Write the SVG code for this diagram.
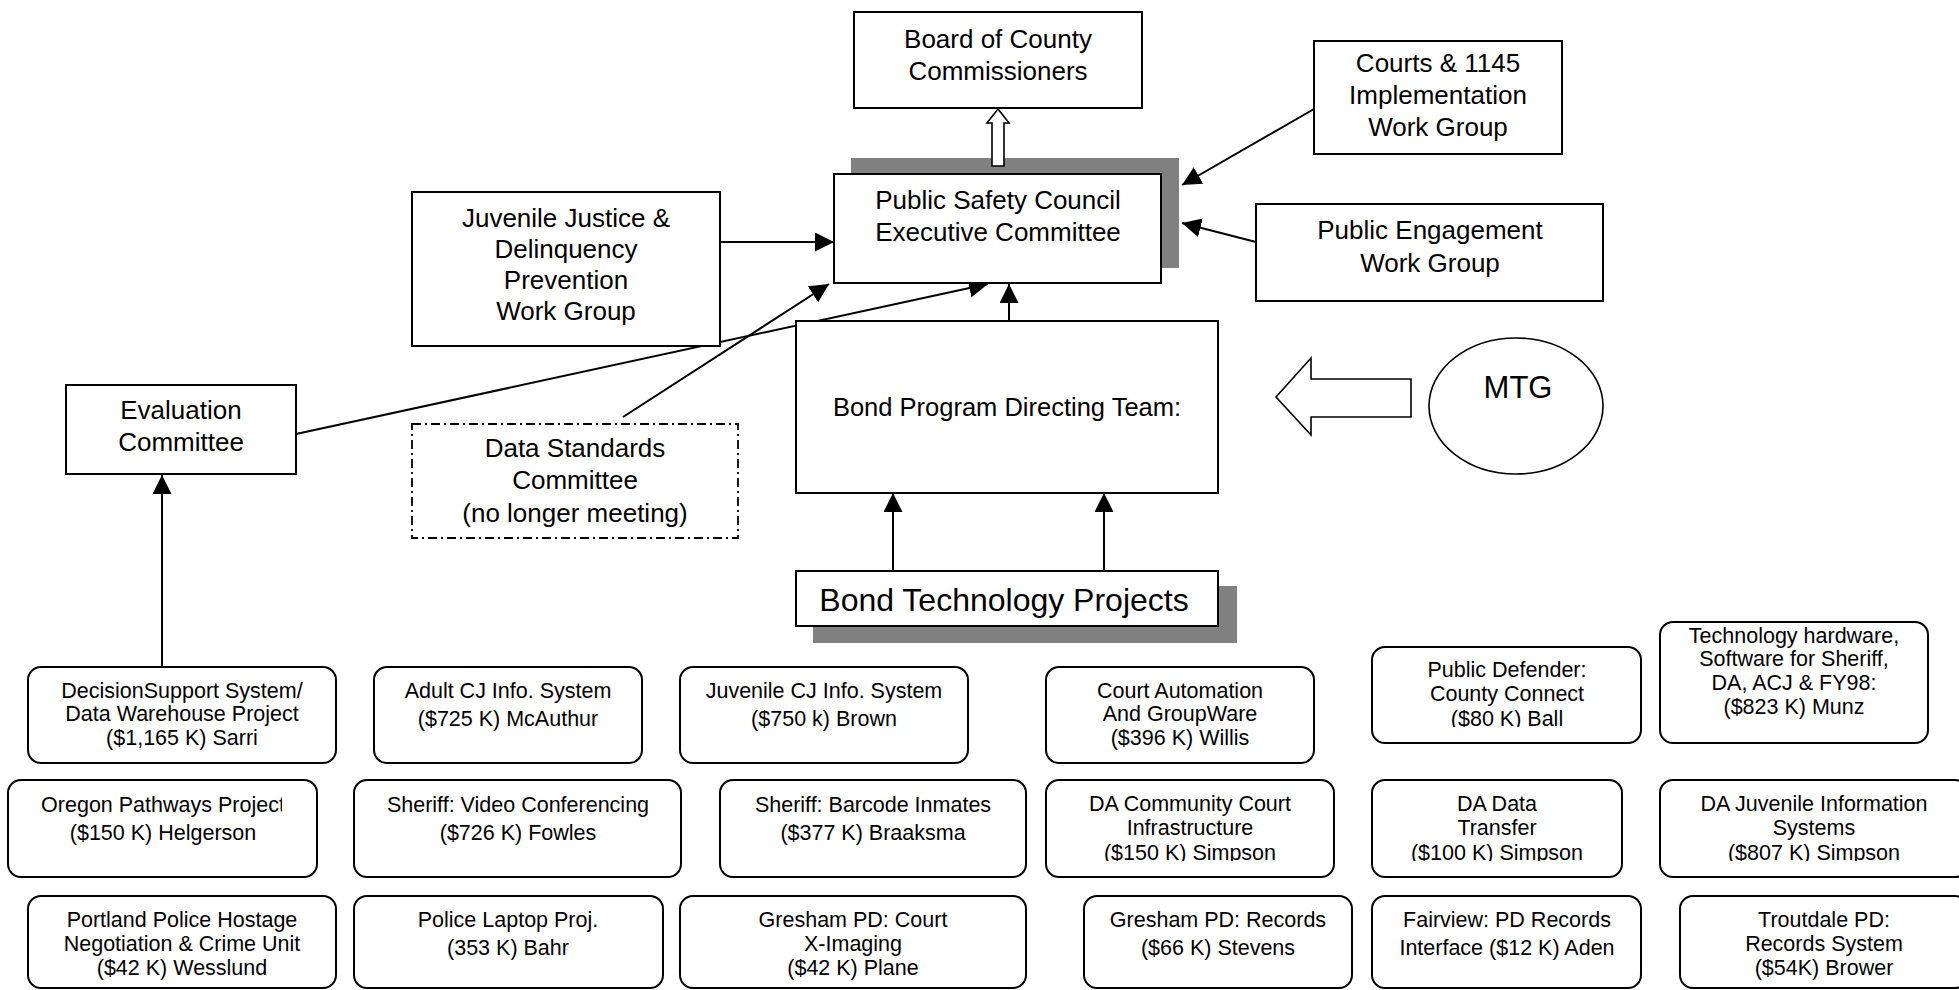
<svg xmlns="http://www.w3.org/2000/svg" width="1959" height="990" viewBox="0 0 1959 990">
<style>
text{font-family:"Liberation Sans",Arial,sans-serif;fill:#000;text-anchor:middle}
.t{font-size:26px}
.s{font-size:21.5px}
.box{fill:#fff;stroke:#000;stroke-width:2}
.rb{fill:#fff;stroke:#000;stroke-width:2}
.sh{fill:#808080}
.ln{stroke:#000;stroke-width:2;fill:none;marker-end:url(#ah)}
.hol{fill:#fff;stroke:#000;stroke-width:1.6}
</style>
<defs>
<marker id="ah" markerUnits="userSpaceOnUse" markerWidth="20" markerHeight="20" refX="19" refY="9.5" orient="auto">
<path d="M0,0 L19,9.5 L0,19 z" fill="#000"/>
</marker>
<clipPath id="cOregon"><rect x="8" y="780" width="274" height="97"/></clipPath>
<clipPath id="cPubDef"><rect x="1372" y="647" width="269" height="80"/></clipPath>
<clipPath id="cDACom"><rect x="1046" y="780" width="288" height="81"/></clipPath>
<clipPath id="cDAData"><rect x="1372" y="780" width="250" height="81"/></clipPath>
<clipPath id="cDAJuv"><rect x="1660" y="780" width="300" height="81"/></clipPath>
</defs>

<g id="psc-shadow"><rect class="sh" x="851" y="158" width="328" height="110"/></g>
<g id="btp-shadow"><rect class="sh" x="813" y="586" width="424" height="57"/></g>

<g id="connectors">
<polygon class="hol" points="992,166 992,123 987,123 998,109 1009,123 1004,123 1004,166"/>
<line class="ln" x1="720" y1="242" x2="834" y2="242"/>
<line class="ln" x1="1314" y1="109" x2="1182" y2="185"/>
<line class="ln" x1="1256" y1="242" x2="1182" y2="223"/>
<line class="ln" x1="1009" y1="321" x2="1009" y2="284"/>
<line class="ln" x1="296" y1="434" x2="988" y2="284"/>
<line class="ln" x1="623" y1="417" x2="829" y2="284"/>
<line class="ln" x1="162" y1="667" x2="162" y2="475"/>
<line class="ln" x1="893" y1="571" x2="893" y2="493"/>
<line class="ln" x1="1104" y1="571" x2="1104" y2="493"/>
<polygon class="hol" points="1276,397 1311,358 1311,379 1411,379 1411,417 1311,417 1311,435"/>
</g>

<g id="board"><rect class="box" x="854" y="12" width="288" height="96"/>
<text class="t" x="998" y="48">Board of County</text><text class="t" x="998" y="80">Commissioners</text></g>

<g id="courts"><rect class="box" x="1314" y="41" width="248" height="113"/>
<text class="t" x="1438" y="72">Courts &amp; 1145</text><text class="t" x="1438" y="104">Implementation</text><text class="t" x="1438" y="136">Work Group</text></g>

<g id="psc"><rect class="box" x="834" y="174" width="327" height="109"/>
<text class="t" x="998" y="209">Public Safety Council</text><text class="t" x="998" y="241">Executive Committee</text></g>

<g id="juvenile-justice"><rect class="box" x="412" y="192" width="308" height="154"/>
<text class="t" x="566" y="227">Juvenile Justice &amp;</text><text class="t" x="566" y="258">Delinquency</text><text class="t" x="566" y="289">Prevention</text><text class="t" x="566" y="320">Work Group</text></g>

<g id="public-engagement"><rect class="box" x="1256" y="204" width="347" height="97"/>
<text class="t" x="1430" y="239">Public Engagement</text><text class="t" x="1430" y="272">Work Group</text></g>

<g id="evaluation"><rect class="box" x="66" y="385" width="230" height="89"/>
<text class="t" x="181" y="419">Evaluation</text><text class="t" x="181" y="451">Committee</text></g>

<g id="data-standards"><rect x="412" y="424" width="326" height="114" fill="#fff" stroke="#000" stroke-width="1.8" stroke-dasharray="9,4,2,4"/>
<text class="t" x="575" y="457">Data Standards</text><text class="t" x="575" y="489">Committee</text><text class="t" x="575" y="522">(no longer meeting)</text></g>

<g id="bond-program"><rect class="box" x="796" y="321" width="422" height="172"/>
<text x="1007" y="416" style="font-size:25.5px">Bond Program Directing Team:</text></g>

<g id="mtg"><ellipse cx="1516" cy="406" rx="87" ry="68" fill="#fff" stroke="#000" stroke-width="1.6"/>
<text x="1518" y="398" style="font-size:31px">MTG</text></g>

<g id="bond-tech"><rect class="box" x="796" y="571" width="422" height="55"/>
<text x="1004" y="611" style="font-size:32px">Bond Technology Projects</text></g>

<g id="p-decision"><rect class="rb" x="28" y="667" width="308" height="96" rx="13"/>
<text class="s" x="182" y="698">DecisionSupport System/</text><text class="s" x="182" y="721">Data Warehouse Project</text><text class="s" x="182" y="745">($1,165 K) Sarri</text></g>

<g id="p-adultcj"><rect class="rb" x="374" y="667" width="268" height="96" rx="13"/>
<text class="s" x="508" y="698">Adult CJ Info. System</text><text class="s" x="508" y="726">($725 K) McAuthur</text></g>

<g id="p-juvcj"><rect class="rb" x="680" y="667" width="288" height="96" rx="13"/>
<text class="s" x="824" y="698">Juvenile CJ Info. System</text><text class="s" x="824" y="726">($750 k) Brown</text></g>

<g id="p-courtauto"><rect class="rb" x="1046" y="667" width="268" height="96" rx="13"/>
<text class="s" x="1180" y="698">Court Automation</text><text class="s" x="1180" y="721">And GroupWare</text><text class="s" x="1180" y="745">($396 K) Willis</text></g>

<g id="p-pubdef"><rect class="rb" x="1372" y="647" width="269" height="96" rx="13"/>
<g clip-path="url(#cPubDef)"><text class="s" x="1507" y="677">Public Defender:</text><text class="s" x="1507" y="701">County Connect</text><text class="s" x="1507" y="726">($80 K) Ball</text></g></g>

<g id="p-techhw"><rect class="rb" x="1660" y="622" width="268" height="121" rx="13"/>
<text class="s" x="1794" y="643">Technology hardware,</text><text class="s" x="1794" y="666">Software for Sheriff,</text><text class="s" x="1794" y="690">DA, ACJ &amp; FY98:</text><text class="s" x="1794" y="714">($823 K) Munz</text></g>

<g id="p-oregon"><rect class="rb" x="8" y="780" width="309" height="97" rx="13"/>
<g clip-path="url(#cOregon)"><text class="s" x="163" y="812">Oregon Pathways Project</text><text class="s" x="163" y="840">($150 K) Helgerson</text></g></g>

<g id="p-video"><rect class="rb" x="354" y="780" width="327" height="97" rx="13"/>
<text class="s" x="518" y="812">Sheriff: Video Conferencing</text><text class="s" x="518" y="840">($726 K) Fowles</text></g>

<g id="p-barcode"><rect class="rb" x="720" y="780" width="306" height="97" rx="13"/>
<text class="s" x="873" y="812">Sheriff: Barcode Inmates</text><text class="s" x="873" y="840">($377 K) Braaksma</text></g>

<g id="p-dacommunity"><rect class="rb" x="1046" y="780" width="288" height="97" rx="13"/>
<g clip-path="url(#cDACom)"><text class="s" x="1190" y="811">DA Community Court</text><text class="s" x="1190" y="835">Infrastructure</text><text class="s" x="1190" y="860">($150 K) Simpson</text></g></g>

<g id="p-dadata"><rect class="rb" x="1372" y="780" width="250" height="97" rx="13"/>
<g clip-path="url(#cDAData)"><text class="s" x="1497" y="811">DA Data</text><text class="s" x="1497" y="835">Transfer</text><text class="s" x="1497" y="860">($100 K) Simpson</text></g></g>

<g id="p-dajuv"><rect class="rb" x="1660" y="780" width="308" height="97" rx="13"/>
<g clip-path="url(#cDAJuv)"><text class="s" x="1814" y="811">DA Juvenile Information</text><text class="s" x="1814" y="835">Systems</text><text class="s" x="1814" y="860">($807 K) Simpson</text></g></g>

<g id="p-portland"><rect class="rb" x="28" y="896" width="308" height="92" rx="13"/>
<text class="s" x="182" y="927">Portland Police Hostage</text><text class="s" x="182" y="951">Negotiation &amp; Crime Unit</text><text class="s" x="182" y="975">($42 K) Wesslund</text></g>

<g id="p-laptop"><rect class="rb" x="354" y="896" width="309" height="92" rx="13"/>
<text class="s" x="508" y="927">Police Laptop Proj.</text><text class="s" x="508" y="955">(353 K) Bahr</text></g>

<g id="p-greshamcourt"><rect class="rb" x="680" y="896" width="346" height="92" rx="13"/>
<text class="s" x="853" y="927">Gresham PD: Court</text><text class="s" x="853" y="951">X-Imaging</text><text class="s" x="853" y="975">($42 K) Plane</text></g>

<g id="p-greshamrecords"><rect class="rb" x="1084" y="896" width="268" height="92" rx="13"/>
<text class="s" x="1218" y="927">Gresham PD: Records</text><text class="s" x="1218" y="955">($66 K) Stevens</text></g>

<g id="p-fairview"><rect class="rb" x="1372" y="896" width="269" height="92" rx="13"/>
<text class="s" x="1507" y="927">Fairview: PD Records</text><text class="s" x="1507" y="955">Interface ($12 K) Aden</text></g>

<g id="p-troutdale"><rect class="rb" x="1680" y="896" width="288" height="92" rx="13"/>
<text class="s" x="1824" y="927">Troutdale PD:</text><text class="s" x="1824" y="951">Records System</text><text class="s" x="1824" y="975">($54K) Brower</text></g>
</svg>
